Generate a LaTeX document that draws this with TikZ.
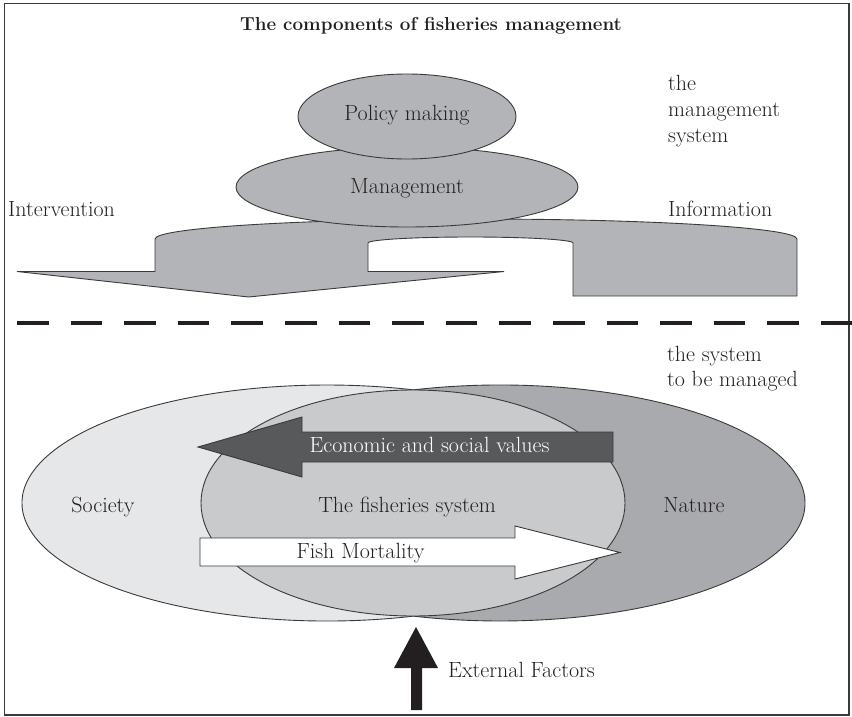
\documentclass[tikz,border=0pt]{standalone}
\usetikzlibrary{shapes.geometric}
\definecolor{ink}{HTML}{231F20}
\definecolor{edge}{HTML}{3A3A3A}
\definecolor{topgrey}{HTML}{B3B4B7}
\definecolor{society}{HTML}{E6E7E8}
\definecolor{fishery}{HTML}{C9CACC}
\definecolor{nature}{HTML}{A9AAAD}
\definecolor{econ}{HTML}{58595B}
\tikzset{
  lbl/.style={font=\fontsize{22}{26}\selectfont, text=ink, inner sep=0pt},
  outl/.style={draw=edge, line width=0.9pt},
  ell/.style={ellipse, outl, inner sep=0pt},
}
\begin{document}
\begin{tikzpicture}[x=1pt,y=-1pt]
\useasboundingbox (0,0) rectangle (852,717);
% frame
\draw[edge, line width=1.2pt] (4.5,3.5) rectangle (849,715);
% title
\node[lbl, font=\fontsize{18.8}{22}\selectfont\bfseries, anchor=base] (title) at (431,31) {The components of fisheries management};

% top band arrow
\filldraw[outl, fill=topgrey] (155,239) -- (155,271.5) -- (17,271.5) -- (248.5,297) -- (504,271.5) -- (368,271.5) -- (368,243)
  arc[start angle=180, end angle=360, x radius=102.5, y radius=6] -- (573,296) -- (797,296) -- (797,239)
  arc[start angle=0, end angle=-180, x radius=321, y radius=20] -- cycle;

% management ellipses
\node[ell, fill=topgrey, minimum width=342, minimum height=80] (mgmt) at (407,187) {};
\node[ell, fill=topgrey, minimum width=218, minimum height=85] (policy) at (407,116.5) {};
\node[lbl, anchor=base] at (407,121) {Policy making};
\node[lbl, anchor=base] at (407,193) {Management};

% side texts
\node[lbl, anchor=base west] (ms1) at (668,91) {the};
\node[lbl, anchor=base west] (ms2) at (668,116.5) {management};
\node[lbl, anchor=base west] (ms3) at (668,142) {system};
\node[lbl, anchor=base west] (interv) at (8,216) {Intervention};
\node[lbl, anchor=base west] (inform) at (668,216) {Information};

% dashed separator
\coordinate (dl) at (17,323);
\coordinate (dr) at (853,323);
\draw[ink, line width=4pt, dash pattern=on 31.5pt off 22.1pt] (dl) -- (dr);

\node[lbl, anchor=base west] (sb1) at (667,361) {the system};
\node[lbl, anchor=base west] (sb2) at (667,386) {to be managed};

% society / nature
\fill[society] (327,503) ellipse[x radius=305, y radius=118];
\begin{scope}
  \clip (413.5,300) rectangle (852,717);
  \fill[nature] (500,503) ellipse[x radius=305, y radius=118];
\end{scope}
\draw[outl] (327,503) ++(73.5:305 and 118) arc[start angle=73.5, end angle=286.5, x radius=305, y radius=118];
\draw[outl] (500,503) ++(-106.5:305 and 118) arc[start angle=-106.5, end angle=106.5, x radius=305, y radius=118];
\node[ell, fill=fishery, minimum width=424, minimum height=226] (fish) at (413,503) {};

\node[lbl, anchor=base] (soc) at (103,512) {Society};
\node[lbl, anchor=base] (nat) at (694,512) {Nature};
\node[lbl, anchor=base] (fs) at (407,512) {The fisheries system};

% economic arrow
\filldraw[outl, fill=econ] (613,432) -- (302,432) -- (302,417) -- (198,447) -- (302,477) -- (302,462) -- (613,462) -- cycle;
\node[lbl, text=white, anchor=base] (ev) at (429.5,452) {Economic and social values};

% fish mortality arrow
\filldraw[outl, fill=white] (200,538) -- (515,538) -- (515,526) -- (620,552.5) -- (515,579) -- (515,566) -- (200,566) -- cycle;
\node[lbl, anchor=base] (fm) at (360.5,558) {Fish Mortality};

% external factors arrow
\fill[ink] (411,710) -- (411,668) -- (394,668) -- (416,627) -- (438,668) -- (422,668) -- (422,710) -- cycle;
\node[lbl, anchor=base west] (ef) at (448,677) {External Factors};
\end{tikzpicture}
\end{document}
